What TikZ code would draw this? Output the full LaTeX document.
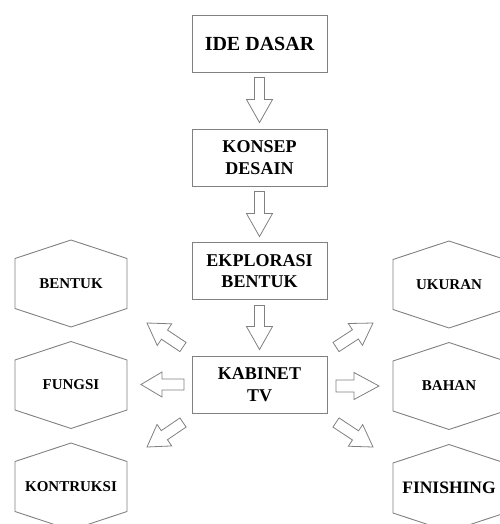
\documentclass[tikz,border=0pt]{standalone}
\usepackage{fontspec}
\setmainfont{Liberation Serif}
\usetikzlibrary{calc}
\newcommand{\hexa}[1]{%
  \draw[ln] ($(#1)+(-56,-25)$) -- ($(#1)+(0,-43.5)$) -- ($(#1)+(56,-25)$) --
    ($(#1)+(56,25)$) -- ($(#1)+(0,43.5)$) -- ($(#1)+(-56,25)$) -- cycle;}
% tail, tip, shaft half width, head half width, head length
\newcommand{\blockarrow}[5]{%
  \coordinate (bah) at ($(#2)!#5!(#1)$);
  \draw[blk] ($(#1)!#3!90:(#2)$) -- ($(bah)!#3!90:(#2)$) -- ($(bah)!#4!90:(#2)$) --
    (#2) -- ($(bah)!#4!-90:(#2)$) -- ($(bah)!#3!-90:(#2)$) -- ($(#1)!#3!-90:(#2)$) -- cycle;}
\begin{document}
\begin{tikzpicture}[x=1pt,y=-1pt,
  ln/.style={draw=black!50, line width=0.9pt},
  blk/.style={draw=black!50, line width=0.8pt, fill=white, line join=miter},
  box/.style={ln, minimum width=135pt, minimum height=57pt, inner sep=0pt, align=center,
    font=\bfseries\fontsize{18}{21.5}\selectfont},
  hexlabel/.style={inner sep=0pt, font=\bfseries\fontsize{15}{18}\selectfont}]
\useasboundingbox (0,0) rectangle (499,524);
% main boxes
\node[box, font=\bfseries\fontsize{20}{24}\selectfont] (ide) at (259.5,43.5) {IDE DASAR};
\node[box] (konsep) at (259.5,157.5) {KONSEP\\DESAIN};
\node[box] (eksp) at (259.5,271) {EKPLORASI\\BENTUK};
\node[box] (kab) at (259.5,384.5) {KABINET\\TV};
% hexagons
\node[hexlabel] (bentuk) at (71,283.5) {BENTUK};
\node[hexlabel] (fungsi) at (71,385) {FUNGSI};
\node[hexlabel] (kontruksi) at (71,486.5) {KONTRUKSI};
\node[hexlabel] (ukuran) at (449,284.5) {UKURAN};
\node[hexlabel] (bahan) at (449,386) {BAHAN};
\node[hexlabel, font=\bfseries\fontsize{17.5}{20}\selectfont] (finishing) at (449,488) {FINISHING};
\hexa{bentuk}\hexa{fungsi}\hexa{kontruksi}
\hexa{ukuran}\hexa{bahan}\hexa{finishing}
% vertical arrows
\coordinate (a1t) at ($(ide.south)+(0,5)$);    \coordinate (a1h) at ($(konsep.north)+(0,-6)$);
\coordinate (a2t) at ($(konsep.south)+(0,5)$); \coordinate (a2h) at ($(eksp.north)+(0,-5.5)$);
\coordinate (a3t) at ($(eksp.south)+(0,5.5)$); \coordinate (a3h) at ($(kab.north)+(0,-6)$);
\blockarrow{a1t}{a1h}{5pt}{13pt}{23pt}
\blockarrow{a2t}{a2h}{5pt}{13pt}{23pt}
\blockarrow{a3t}{a3h}{5pt}{13pt}{23pt}
% side arrows
\coordinate (lut) at ($(kab)+(-76.5,-37.5)$); \coordinate (luh) at ($(kab)+(-112.5,-61.5)$);
\coordinate (lmt) at ($(kab)+(-75.5,0)$);     \coordinate (lmh) at ($(kab)+(-118.5,0)$);
\coordinate (ldt) at ($(kab)+(-76.5,38)$);    \coordinate (ldh) at ($(kab)+(-112.5,62.5)$);
\coordinate (rut) at ($(kab)+(76.5,-37.5)$);  \coordinate (ruh) at ($(kab)+(113.5,-61.5)$);
\coordinate (rmt) at ($(kab)+(76.5,1.5)$);    \coordinate (rmh) at ($(kab)+(119.5,1.5)$);
\coordinate (rdt) at ($(kab)+(76.5,38)$);     \coordinate (rdh) at ($(kab)+(113.5,62.5)$);
\blockarrow{lut}{luh}{5.5pt}{13pt}{21pt}
\blockarrow{lmt}{lmh}{5.5pt}{12.5pt}{21pt}
\blockarrow{ldt}{ldh}{5.5pt}{13pt}{21pt}
\blockarrow{rut}{ruh}{5.5pt}{13pt}{21pt}
\blockarrow{rmt}{rmh}{6pt}{13.5pt}{25pt}
\blockarrow{rdt}{rdh}{5.5pt}{13pt}{21pt}
\end{tikzpicture}
\end{document}
